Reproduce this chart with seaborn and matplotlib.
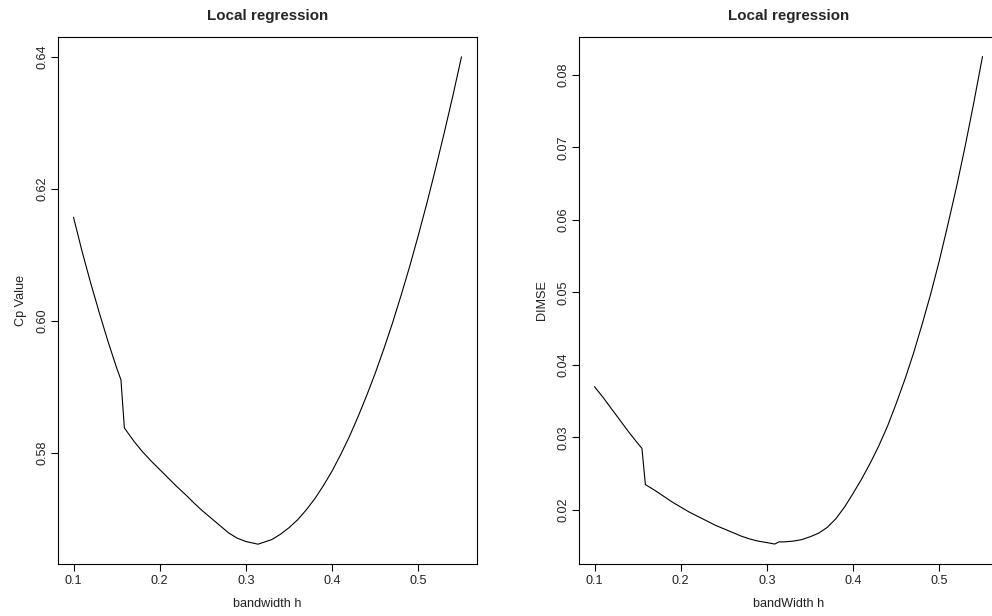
import pandas as pd
import seaborn as sns
import matplotlib
matplotlib.use("Agg")
import matplotlib.pyplot as plt

# bandwidth grid and Cp values
h_cp = [0.10, 0.11, 0.12, 0.13, 0.14, 0.15, 0.155, 0.159, 0.17, 0.18, 0.19, 0.20,
        0.21, 0.22, 0.23, 0.24, 0.25, 0.26, 0.27, 0.28, 0.29, 0.30, 0.314, 0.33,
        0.34, 0.35, 0.36, 0.37, 0.38, 0.39, 0.40, 0.41, 0.42, 0.43, 0.44, 0.45,
        0.46, 0.47, 0.48, 0.49, 0.50, 0.51, 0.52, 0.53, 0.54, 0.55]
cp = [0.6157, 0.6105, 0.6057, 0.6012, 0.5969, 0.5929, 0.5911, 0.5838, 0.5818, 0.5802,
      0.5788, 0.5775, 0.5762, 0.5749, 0.5737, 0.5724, 0.5712, 0.5701, 0.5690, 0.5679,
      0.5671, 0.5666, 0.5662, 0.5669, 0.5677, 0.5687, 0.5699, 0.5714, 0.5731, 0.5751,
      0.5773, 0.5798, 0.5825, 0.5855, 0.5887, 0.5921, 0.5958, 0.5997, 0.6039, 0.6083,
      0.6130, 0.6179, 0.6231, 0.6285, 0.6341, 0.6400]

# bandwidth grid and DIMSE values
h_dimse = [0.10, 0.11, 0.12, 0.13, 0.14, 0.15, 0.155, 0.159, 0.17, 0.18, 0.19, 0.20,
           0.21, 0.22, 0.23, 0.24, 0.25, 0.26, 0.27, 0.28, 0.29, 0.30, 0.309, 0.314,
           0.32, 0.33, 0.34, 0.35, 0.36, 0.37, 0.38, 0.39, 0.40, 0.41, 0.42, 0.43,
           0.44, 0.45, 0.46, 0.47, 0.48, 0.49, 0.50, 0.51, 0.52, 0.53, 0.54, 0.55]
dimse = [0.0370, 0.0355, 0.0339, 0.0323, 0.0307, 0.0292, 0.0285, 0.0235, 0.0227, 0.0219,
         0.0211, 0.0204, 0.0197, 0.0191, 0.0185, 0.0179, 0.0174, 0.0169, 0.0164, 0.0160,
         0.0157, 0.0155, 0.0153, 0.0156, 0.0156, 0.0157, 0.0159, 0.0163, 0.0168, 0.0176,
         0.0188, 0.0204, 0.0223, 0.0243, 0.0265, 0.0289, 0.0316, 0.0347, 0.0380, 0.0416,
         0.0456, 0.0498, 0.0544, 0.0594, 0.0646, 0.0702, 0.0762, 0.0825]

x_ticks = [0.1, 0.2, 0.3, 0.4, 0.5]
cp_ticks = [0.58, 0.60, 0.62, 0.64]
dimse_ticks = [0.02, 0.03, 0.04, 0.05, 0.06, 0.07, 0.08]

df_cp = pd.DataFrame({"h": h_cp, "cp": cp})
df_dimse = pd.DataFrame({"h": h_dimse, "dimse": dimse})

sns.set_theme(style="ticks")
plt.rcParams["font.family"] = ["Liberation Sans", "DejaVu Sans"]
plt.rcParams["axes.edgecolor"] = "black"
plt.rcParams["axes.linewidth"] = 0.8

fig = plt.figure(figsize=(9.92, 6.16), dpi=100)
ax1 = fig.add_axes([58 / 992, 52 / 616, 419 / 992, 527 / 616])
ax2 = fig.add_axes([579 / 992, 52 / 616, 419 / 992, 527 / 616])


def r_style(ax, yticks, ylabel, xlabel):
    ax.set_xlim(0.082, 0.568)
    ax.set_xticks(x_ticks)
    ax.set_xticklabels([f"{t:.1f}" for t in x_ticks])
    ax.set_yticks(yticks)
    ax.set_yticklabels([f"{t:.2f}" for t in yticks])
    ax.tick_params(length=5, width=0.8, color="black", labelsize=9.1, pad=3,
                   labelcolor="#222222")
    ax.tick_params(axis="y", pad=2)
    for lab in ax.get_yticklabels():
        lab.set_rotation(90)
        lab.set_va("center")
    ax.set_xlabel(xlabel, fontsize=9.1, labelpad=8, color="#222222")
    ax.set_ylabel(ylabel, fontsize=9.1, labelpad=7, color="#222222")
    ax.set_title("Local regression", fontsize=10.9, fontweight="bold", pad=12)
    for s in ax.spines.values():
        s.set_visible(True)
        s.set_color("black")


sns.lineplot(data=df_cp, x="h", y="cp", ax=ax1, color="black", linewidth=0.8,
             estimator=None, sort=False)
ax1.set_ylim(0.5632, 0.6430)
r_style(ax1, cp_ticks, "Cp Value", "bandwidth h")

sns.lineplot(data=df_dimse, x="h", y="dimse", ax=ax2, color="black", linewidth=0.8,
             estimator=None, sort=False)
ax2.set_ylim(0.01255, 0.0852)
r_style(ax2, dimse_ticks, "DIMSE", "bandWidth h")

fig.savefig("out.png", dpi=100, facecolor="white")
